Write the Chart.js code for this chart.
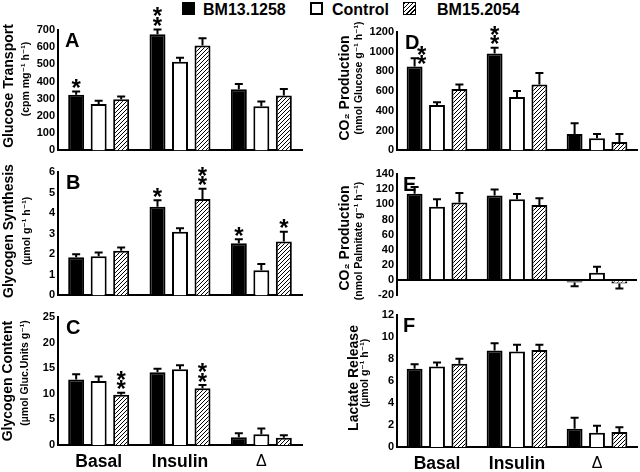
<!DOCTYPE html>
<html lang="en">
<head>
<meta charset="UTF-8">
<title>Muscle metabolism: BM13.1258 vs BM15.2054</title>
<script src="https://cdn.jsdelivr.net/npm/chart.js"></script>
<style>
  body { margin: 0; background: #fff; }
  #page { position: relative; width: 640px; height: 472px; overflow: hidden;
          font-family: 'Liberation Sans', Arial, sans-serif; }
  .panel { position: absolute; }
  .key { position: absolute; top: 2px; font-size: 16px; line-height: 16px; font-weight: bold; }
  .box { position: absolute; top: 2px; width: 13px; height: 13px; box-sizing: border-box; border: 1.5px solid #000; }
</style>
</head>
<body>
<div id="page">
  <div class="box" style="left:182px;background:#000"></div>
  <div class="key" style="left:203px">BM13.1258</div>
  <div class="box" style="left:310px;background:#fff;border-width:2px"></div>
  <div class="key" style="left:332px">Control</div>
  <div class="box" style="left:403px;background:repeating-linear-gradient(135deg,#000 0 1px,#fff 1px 3px)"></div>
  <div class="key" style="left:437px">BM15.2054</div>

  <canvas class="panel" id="pA" width="320" height="160" style="left:0;top:0"></canvas>
  <canvas class="panel" id="pB" width="320" height="145" style="left:0;top:160px"></canvas>
  <canvas class="panel" id="pC" width="320" height="167" style="left:0;top:305px"></canvas>
  <canvas class="panel" id="pD" width="320" height="160" style="left:320px;top:0"></canvas>
  <canvas class="panel" id="pE" width="320" height="145" style="left:320px;top:160px"></canvas>
  <canvas class="panel" id="pF" width="320" height="167" style="left:320px;top:305px"></canvas>
</div>

<script>
const FONT = "'Liberation Sans', Arial, 'DejaVu Sans', sans-serif";

const groups = ['Basal', 'Insulin', 'Δ'];
const series = ['BM13.1258', 'Control', 'BM15.2054'];

// order inside each panel: BM13.1258, Control, BM15.2054
// A  glucose transport
const aMean  = [[323, 675, 355], [270, 515, 257], [298, 610, 319]];
const aSem   = [[19, 28, 31], [19, 23, 28], [16, 42, 38]];
const aStars = [[1, 2, 0], [0, 0, 0], [0, 0, 0]];
const aTicks = [0, 100, 200, 300, 400, 500, 600, 700];

// B  glycogen synthesis
const bMean  = [[1.85, 4.31, 2.54], [1.9, 3.09, 1.22], [2.17, 4.69, 2.62]];
const bSem   = [[0.15, 0.32, 0.19], [0.19, 0.17, 0.31], [0.16, 0.5, 0.47]];
const bStars = [[0, 1, 1], [0, 0, 0], [0, 2, 1]];
const bTicks = [0, 1, 2, 3, 4, 5, 6];

// C  glycogen content
const cMean  = [[12.8, 14.2, 1.5], [12.5, 14.8, 2.1], [9.8, 11.1, 1.4]];
const cSem   = [[1.0, 0.7, 0.8], [0.9, 0.8, 1.1], [0.4, 0.6, 0.5]];
const cStars = [[0, 0, 0], [0, 0, 0], [2, 2, 0]];
const cTicks = [0, 5, 10, 15, 20, 25];

// D  CO2 production from glucose
const dMean  = [[851, 981, 166], [459, 542, 123], [622, 668, 86]];
const dSem   = [[83, 60, 110], [29, 60, 43], [46, 117, 80]];
const dStars = [[2, 2, 0], [0, 0, 0], [0, 0, 0]];
const dTicks = [0, 200, 400, 600, 800, 1000, 1200];

// E  CO2 production from palmitate
const eMean  = [[114, 111.5, -3], [97, 106.6, 10], [102.6, 99, -4.4]];
const eSem   = [[9, 8, 5], [9.6, 7, 7.6], [12.4, 9, 6.6]];
const eStars = [[0, 0, 0], [0, 0, 0], [0, 0, 0]];
const eTicks = [-20, 0, 20, 40, 60, 80, 100, 120, 140];

// F  lactate release
const fMean  = [[7.1, 8.75, 1.66], [7.3, 8.66, 1.3], [7.54, 8.8, 1.36]];
const fSem   = [[0.4, 0.65, 1.0], [0.36, 0.6, 0.63], [0.46, 0.46, 0.44]];
const fStars = [[0, 0, 0], [0, 0, 0], [0, 0, 0]];
const fTicks = [0, 2, 4, 6, 8, 10, 12];

function hatch() {
  const c = document.createElement('canvas');
  c.width = 4; c.height = 4;
  const g = c.getContext('2d');
  g.fillStyle = '#fff'; g.fillRect(0, 0, 4, 4);
  g.strokeStyle = '#000'; g.lineWidth = 1;
  g.beginPath();
  g.moveTo(0, 4); g.lineTo(4, 0);
  g.moveTo(-1, 1); g.lineTo(1, -1);
  g.moveTo(3, 5); g.lineTo(5, 3);
  g.stroke();
  return g.createPattern(c, 'repeat');
}
const fills = ['#000', '#fff', hatch()];

function rotText(ctx, txt, x, y, font) {
  ctx.save();
  ctx.translate(x, y);
  ctx.rotate(-Math.PI / 2);
  ctx.font = font;
  ctx.textAlign = 'center';
  ctx.textBaseline = 'middle';
  ctx.fillText(txt, 0, 0);
  ctx.restore();
}

// error bars, significance stars, panel letter, axis titles
const extras = {
  id: 'extras',
  afterDatasetsDraw(chart, args, o) {
    const ctx = chart.ctx, y = chart.scales.y;
    ctx.save();
    ctx.fillStyle = '#000';
    ctx.strokeStyle = '#000';
    chart.data.datasets.forEach((ds, i) => {
      chart.getDatasetMeta(i).data.forEach((bar, j) => {
        const v = ds.data[j], dir = v < 0 ? -1 : 1;
        const yt = y.getPixelForValue(v + dir * o.sem[i][j]);
        ctx.lineWidth = 2;
        ctx.beginPath();
        ctx.moveTo(bar.x, bar.y); ctx.lineTo(bar.x, yt);
        ctx.moveTo(bar.x - 4, yt); ctx.lineTo(bar.x + 4, yt);
        ctx.stroke();

        const n = o.stars[i][j];
        if (!n) return;
        ctx.font = 'bold 24px ' + FONT;
        ctx.textAlign = 'center';
        ctx.textBaseline = 'alphabetic';
        const m = ctx.measureText('*');
        const mid = (m.actualBoundingBoxAscent - m.actualBoundingBoxDescent) / 2;
        let dx = 0, dy = 0;
        if (o.shift && o.shift[0] === i && o.shift[1] === j) { dx = o.shift[2]; dy = o.shift[3]; }
        for (let k = 0; k < n; k++) {
          ctx.fillText('*', bar.x + dx, yt - 8 - k * 9.5 + dy + mid);
        }
      });
    });
    ctx.restore();
  },
  afterDraw(chart, args, o) {
    const ctx = chart.ctx, a = chart.chartArea;
    ctx.save();
    ctx.fillStyle = '#000';
    ctx.font = 'bold 20px ' + FONT;
    ctx.textAlign = 'left';
    ctx.textBaseline = 'alphabetic';
    ctx.fillText(o.letter, a.left + o.letterDx, a.top + 17);
    rotText(ctx, o.title, o.titleX, o.titleY, 'bold 14px ' + FONT);
    rotText(ctx, o.sub, o.subX, o.subY, 'bold 10.5px ' + FONT);
    ctx.restore();
  }
};

function panel(id, p) {
  const t = p.ticks;
  new Chart(document.getElementById(id), {
    type: 'bar',
    data: {
      labels: groups,
      datasets: series.map((s, i) => ({
        label: s,
        data: p.mean[i],
        backgroundColor: fills[i],
        borderColor: '#000',
        borderWidth: 2,
        categoryPercentage: p.catPct,
        barPercentage: 0.71
      }))
    },
    options: {
      responsive: false,
      animation: false,
      events: [],
      layout: { padding: { top: p.padTop, right: p.padRight, bottom: 0, left: 0 } },
      plugins: {
        legend: { display: false },
        tooltip: { enabled: false },
        extras: p
      },
      scales: {
        x: {
          grid: { display: false, drawTicks: false },
          border: { display: !p.zeroLine, color: '#000', width: 2 },
          ticks: {
            display: !!p.labels,
            color: '#000',
            padding: 7,
            font: c => c.index === 2
              ? { family: FONT, size: 16, weight: 'normal' }
              : { family: FONT, size: 17.5, weight: 'bold' }
          },
          afterFit: s => { s.height = p.xH; }
        },
        y: {
          min: t[0],
          max: t[t.length - 1],
          afterBuildTicks: s => { s.ticks = t.map(v => ({ value: v })); },
          grid: {
            display: !!p.zeroLine,
            drawTicks: false,
            lineWidth: 2,
            color: c => (c.tick && c.tick.value === 0) ? '#000' : 'rgba(0,0,0,0)'
          },
          border: { display: true, color: '#000', width: 2 },
          ticks: {
            color: '#000', padding: 3, autoSkip: false,
            font: { family: FONT, size: 11, weight: 'bold' },
            callback: v => String(v)
          },
          afterFit: s => { s.width = p.yW; }
        }
      }
    },
    plugins: [extras]
  });
}

panel('pA', { mean: aMean, sem: aSem, stars: aStars, ticks: aTicks, letter: 'A',
  title: 'Glucose Transport', sub: '(cpm mg⁻¹ h⁻¹)',
  titleX: 9, titleY: 86, subX: 26, subY: 79, letterDx: 7,
  padTop: 30, padRight: 18, xH: 7, yW: 58, catPct: 0.83 });

panel('pB', { mean: bMean, sem: bSem, stars: bStars, ticks: bTicks, letter: 'B',
  title: 'Glycogen Synthesis', sub: '(µmol g⁻¹ h⁻¹)',
  titleX: 9, titleY: 71, subX: 27, subY: 71, letterDx: 8,
  padTop: 12, padRight: 18, xH: 9, yW: 58, catPct: 0.83 });

panel('pC', { mean: cMean, sem: cSem, stars: cStars, ticks: cTicks, letter: 'C',
  title: 'Glycogen Content', sub: '(µmol Gluc.Units g⁻¹)',
  titleX: 8, titleY: 76, subX: 25, subY: 68, letterDx: 8, labels: true,
  padTop: 12, padRight: 18, xH: 27, yW: 58, catPct: 0.83 });

panel('pD', { mean: dMean, sem: dSem, stars: dStars, ticks: dTicks, letter: 'D',
  title: 'CO₂ Production', sub: '(nmol Glucose g⁻¹ h⁻¹)',
  titleX: 25, titleY: 88, subX: 39, subY: 78, letterDx: 8, shift: [0, 0, 7, 9.5],
  padTop: 32, padRight: 3, xH: 7, yW: 77, catPct: 0.84 });

panel('pE', { mean: eMean, sem: eSem, stars: eStars, ticks: eTicks, letter: 'E', zeroLine: true,
  title: 'CO₂ Production', sub: '(nmol Palmitate g⁻¹ h⁻¹)',
  titleX: 25, titleY: 78, subX: 39, subY: 81, letterDx: 6,
  padTop: 14, padRight: 3, xH: 9, yW: 77, catPct: 0.84 });

panel('pF', { mean: fMean, sem: fSem, stars: fStars, ticks: fTicks, letter: 'F',
  title: 'Lactate Release', sub: '(µmol g⁻¹ h⁻¹)',
  titleX: 34, titleY: 73, subX: 45, subY: 68, letterDx: 6, labels: true,
  padTop: 9, padRight: 3, xH: 25, yW: 77, catPct: 0.84 });
</script>
</body>
</html>
